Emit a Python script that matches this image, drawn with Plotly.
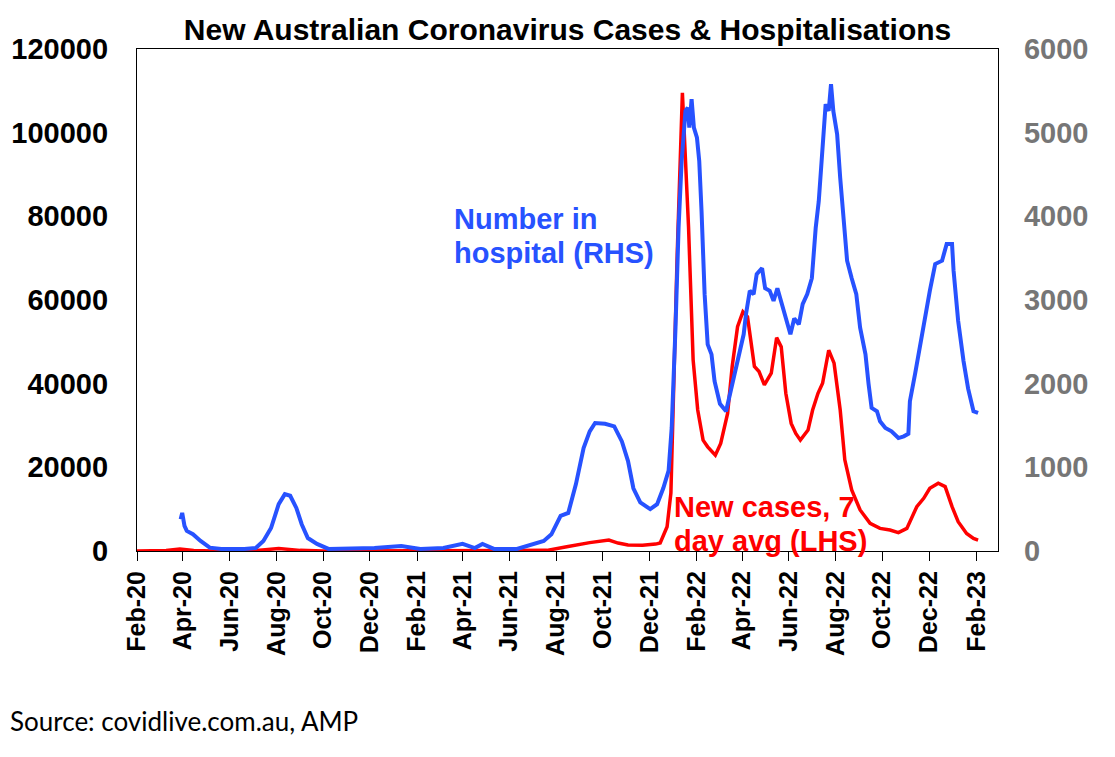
import plotly.graph_objects as go

# New cases, 7 day average (left axis)
case_dates = [
    "2020-02-01", "2020-03-10", "2020-03-28", "2020-04-15", "2020-05-10",
    "2020-07-01", "2020-08-04", "2020-09-01", "2020-10-01", "2021-01-01",
    "2021-06-15", "2021-07-20", "2021-08-15", "2021-09-14", "2021-10-09",
    "2021-10-21", "2021-11-03", "2021-11-22", "2021-12-09", "2021-12-15",
    "2021-12-24", "2021-12-29", "2022-01-06", "2022-01-11", "2022-01-13",
    "2022-01-21", "2022-01-27", "2022-02-02", "2022-02-09", "2022-02-15",
    "2022-02-25", "2022-03-04", "2022-03-13", "2022-03-19", "2022-03-26",
    "2022-04-02", "2022-04-08", "2022-04-17", "2022-04-23", "2022-04-30",
    "2022-05-09", "2022-05-16", "2022-05-22", "2022-05-28", "2022-06-04",
    "2022-06-10", "2022-06-16", "2022-06-26", "2022-07-02", "2022-07-09",
    "2022-07-15", "2022-07-23", "2022-07-30", "2022-08-07", "2022-08-13",
    "2022-08-22", "2022-09-02", "2022-09-15", "2022-09-28", "2022-10-11",
    "2022-10-22", "2022-11-02", "2022-11-15", "2022-11-24", "2022-12-02",
    "2022-12-13", "2022-12-22", "2022-12-31", "2023-01-08", "2023-01-19",
    "2023-01-28", "2023-02-03",
]
new_cases = [
    0, 100, 450, 120, 15,
    30, 600, 150, 15, 15,
    15, 150, 1000, 2000, 2600,
    1900, 1450, 1400, 1650, 1900,
    5800, 13900, 69600, 101000, 109500,
    77500, 45700, 33700, 26500, 24900,
    22900, 25700, 32900, 44100, 53600,
    57200, 56000, 44100, 42900, 39700,
    42500, 51000, 48800, 37700, 30500,
    28100, 26500, 28900, 33700, 37700,
    40100, 48000, 44900, 33700, 21800,
    14600, 9800, 6600, 5400, 5000,
    4400, 5400, 10600, 12600, 15000,
    16200, 15400, 10600, 7000, 4200,
    3000, 2600,
]

# Number in hospital (right axis)
hosp_dates = [
    "2020-03-29", "2020-03-31", "2020-04-03", "2020-04-06", "2020-04-14",
    "2020-04-24", "2020-05-06", "2020-05-21", "2020-06-20", "2020-07-05",
    "2020-07-15", "2020-07-25", "2020-08-04", "2020-08-12", "2020-08-19",
    "2020-08-27", "2020-09-03", "2020-09-11", "2020-09-23", "2020-10-08",
    "2020-12-07", "2021-01-11", "2021-02-05", "2021-03-07", "2021-04-01",
    "2021-04-17", "2021-04-27", "2021-05-12", "2021-06-11", "2021-07-01",
    "2021-07-16", "2021-07-26", "2021-08-07", "2021-08-17", "2021-08-27",
    "2021-09-06", "2021-09-14", "2021-09-21", "2021-10-04", "2021-10-16",
    "2021-10-26", "2021-11-03", "2021-11-10", "2021-11-19", "2021-12-02",
    "2021-12-11", "2021-12-19", "2021-12-26", "2021-12-30", "2022-01-04",
    "2022-01-08", "2022-01-12", "2022-01-17", "2022-01-20", "2022-01-22",
    "2022-01-25", "2022-01-28", "2022-02-01", "2022-02-04", "2022-02-07",
    "2022-02-11", "2022-02-15", "2022-02-20", "2022-02-24", "2022-03-03",
    "2022-03-11", "2022-03-16", "2022-03-22", "2022-03-29", "2022-04-03",
    "2022-04-06", "2022-04-11", "2022-04-16", "2022-04-20", "2022-04-27",
    "2022-05-01", "2022-05-07", "2022-05-12", "2022-05-17", "2022-05-23",
    "2022-05-27", "2022-06-03", "2022-06-08", "2022-06-14", "2022-06-19",
    "2022-06-25", "2022-07-01", "2022-07-06", "2022-07-10", "2022-07-14",
    "2022-07-19", "2022-07-23", "2022-07-26", "2022-07-29", "2022-08-03",
    "2022-08-07", "2022-08-11", "2022-08-16", "2022-08-22", "2022-08-28",
    "2022-09-02", "2022-09-09", "2022-09-13", "2022-09-17", "2022-09-24",
    "2022-09-28", "2022-10-05", "2022-10-13", "2022-10-22", "2022-10-29",
    "2022-11-04", "2022-11-06", "2022-11-13", "2022-11-19", "2022-11-26",
    "2022-12-02", "2022-12-09", "2022-12-18", "2022-12-24", "2022-12-31",
    "2023-01-02", "2023-01-08", "2023-01-15", "2023-01-21", "2023-01-28",
    "2023-02-03",
]
in_hospital = [
    380, 455, 300, 240, 200,
    120, 40, 25, 25, 35,
    120, 275, 560, 680, 660,
    515, 320, 155, 85, 25,
    35, 60, 25, 35, 85,
    35, 85, 25, 25, 85,
    120, 200, 420, 455, 800,
    1230, 1430, 1530, 1520, 1490,
    1310, 1075, 750, 580, 500,
    560, 750, 960, 1470, 2670,
    3860, 4660, 5260, 5300, 5060,
    5400, 5060, 4940, 4660, 4060,
    3070, 2470, 2350, 2030, 1760,
    1670, 1880, 2120, 2390, 2590,
    2830, 3110, 3070, 3310, 3380,
    3140, 3110, 2990, 3140, 2950,
    2830, 2590, 2780, 2710, 2950,
    3070, 3260, 3860, 4180, 4660,
    5340, 5260, 5580, 5260, 4980,
    4460, 4030, 3470, 3260, 3070,
    2670, 2350, 2000, 1710, 1670,
    1550, 1470, 1430, 1350, 1370,
    1400, 1790, 2130, 2450, 2780,
    3110, 3430, 3470, 3670, 3670,
    3350, 2750, 2270, 1940, 1670,
    1650,
]

tick_dates = [
    "2020-02-01", "2020-04-01", "2020-06-01", "2020-08-01", "2020-10-01",
    "2020-12-01", "2021-02-01", "2021-04-01", "2021-06-01", "2021-08-01",
    "2021-10-01", "2021-12-01", "2022-02-01", "2022-04-01", "2022-06-01",
    "2022-08-01", "2022-10-01", "2022-12-01", "2023-02-01",
]
tick_labels = [
    "Feb-20", "Apr-20", "Jun-20", "Aug-20", "Oct-20", "Dec-20", "Feb-21",
    "Apr-21", "Jun-21", "Aug-21", "Oct-21", "Dec-21", "Feb-22", "Apr-22",
    "Jun-22", "Aug-22", "Oct-22", "Dec-22", "Feb-23",
]

BLUE = "#2752ff"
RED = "#ff0000"
FONT = "Liberation Sans, Arial, sans-serif"

fig = go.Figure()
fig.add_trace(go.Scatter(
    x=hosp_dates, y=in_hospital, yaxis="y2", mode="lines",
    line=dict(color=BLUE, width=4), name="Number in hospital (RHS)",
))
fig.add_trace(go.Scatter(
    x=case_dates, y=new_cases, mode="lines",
    line=dict(color=RED, width=3.5), name="New cases, 7 day avg (LHS)",
))

# line labels, one annotation per line to control the spacing
labels = [
    ("Number in", 0.366, 0.661, BLUE),
    ("hospital (RHS)", 0.366, 0.593, BLUE),
    ("New cases, 7", 0.621, 0.088, RED),
    ("day avg (LHS)", 0.621, 0.020, RED),
]
for text, lx, ly, col in labels:
    fig.add_annotation(
        text=f"<b>{text}</b>", x=lx, y=ly, xref="paper", yref="paper",
        xanchor="left", yanchor="middle", showarrow=False,
        font=dict(family=FONT, size=29, color=col),
    )

fig.add_annotation(
    text="Source: covidlive.com.au, AMP", x=-0.1495, y=-0.339,
    xref="paper", yref="paper", xanchor="left", yanchor="middle",
    showarrow=False, font=dict(family="Lato, sans-serif", size=26, color="black"),
)

fig.update_layout(
    width=1115, height=757,
    margin=dict(l=129, r=125, t=41, b=214),
    paper_bgcolor="white", plot_bgcolor="white",
    showlegend=False,
    title=dict(
        text="<b>New Australian Coronavirus Cases & Hospitalisations</b>",
        x=0.5, xref="paper", y=0.971, yanchor="middle",
        font=dict(family=FONT, size=30, color="black"),
    ),
    xaxis=dict(
        type="date", range=["2020-02-01", "2023-03-01"], automargin=False,
        tickvals=tick_dates, ticktext=tick_labels, tickangle=-90,
        ticks="outside", ticklen=9, tickwidth=1.3, tickcolor="black",
        showline=True, linecolor="black", linewidth=1.3, mirror=True,
        showgrid=False, zeroline=False,
        tickfont=dict(family=FONT, size=25, color="black", weight="bold"),
    ),
    yaxis=dict(
        range=[0, 120000], dtick=20000, tickformat="d", automargin=False,
        showline=True, linecolor="black", linewidth=1.3,
        showgrid=False, zeroline=False, ticks="", ticklabelstandoff=22,
        tickfont=dict(family=FONT, size=29, color="black", weight="bold"),
    ),
    yaxis2=dict(
        range=[0, 6000], dtick=1000, tickformat="d", overlaying="y", side="right",
        automargin=False,
        showline=True, linecolor="black", linewidth=1.3,
        showgrid=False, zeroline=False, ticks="", ticklabelstandoff=19,
        tickfont=dict(family=FONT, size=29, color="#767676", weight="bold"),
    ),
)

fig.write_html("out.html")
